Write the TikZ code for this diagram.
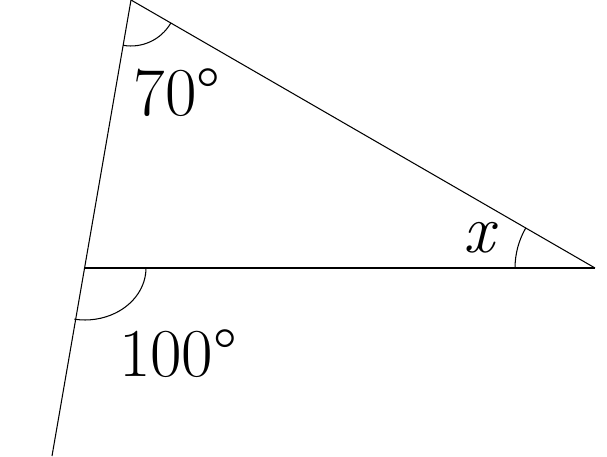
\documentclass[tikz,border=0pt]{standalone}
\usetikzlibrary{calc}

\begin{document}
\begin{tikzpicture}[x=0.02cm,y=0.02cm]
\useasboundingbox (0,0) rectangle (607,456);
\tikzset{anglab/.style={font=\fontsize{39}{40}\selectfont, inner sep=0pt}}

\coordinate (T) at (131,456);
\coordinate (L) at (85,188);
\coordinate (R) at (595,188);
\coordinate (B) at (52,0);

\begin{scope}[line width=0.6pt]
\draw (T) -- (B);
\draw (L) -- (R);
\draw (R) -- (T);

\draw ([shift={(260.26:0.92cm)}]T) arc (260.26:330:0.92cm);
\draw ([shift={(0:1.22cm)}]L) arc [start angle=0, end angle=-100, x radius=1.22cm, y radius=1.04cm];
\draw ([shift={(150:1.6cm)}]R) arc (150:180:1.6cm);
\end{scope}

\node [anglab] (a70) at (177,363) {70°};
\node [anglab] (a100) at (178,102) {100°};
\node [anglab] (ax) at (481,218) {\textit{x}};
\end{tikzpicture}
\end{document}
